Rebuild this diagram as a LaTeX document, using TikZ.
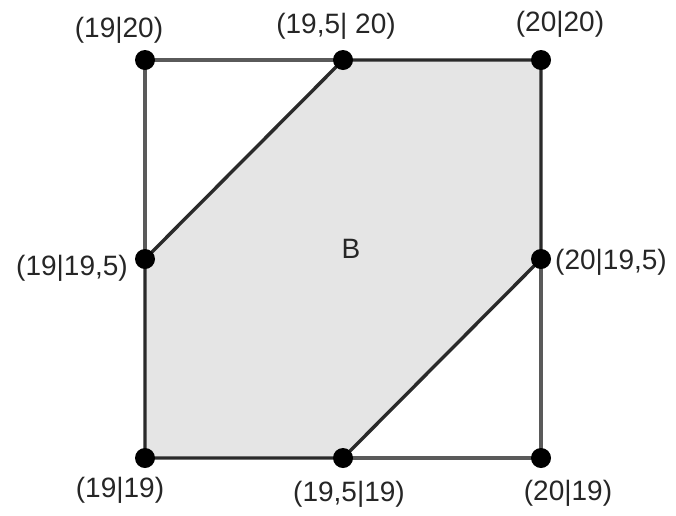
\documentclass[tikz,border=0pt]{standalone}
\usepackage{fontspec}
\setmainfont{Liberation Sans}
\definecolor{hexfill}{HTML}{E5E5E5}
\definecolor{sqline}{HTML}{5A5A5A}
\definecolor{hexline}{HTML}{2A2A2A}
\tikzset{
  sqedge/.style={draw=sqline, line width=3.2pt},
  hexedge/.style={draw=hexline, line width=3.4pt, line join=round},
  dot/.style={circle, fill=black, inner sep=0pt, minimum size=20pt},
  lbl/.style={font=\fontsize{28}{32}\selectfont, inner sep=0pt, text=black!85}
}
\begin{document}
\begin{tikzpicture}[x=1pt, y=-1pt]
\useasboundingbox (0,0) rectangle (676,515);
\coordinate (tl) at (145,60);
\coordinate (tm) at (343,60);
\coordinate (tr) at (541,60);
\coordinate (ml) at (145,259);
\coordinate (mr) at (541,259);
\coordinate (bl) at (145,458);
\coordinate (bm) at (343,458);
\coordinate (br) at (541,458);
% filled hexagon
\fill[hexfill] (tm) -- (tr) -- (mr) -- (bm) -- (bl) -- (ml) -- cycle;
% square edges
\draw[sqedge] (tl) -- (tm);
\draw[sqedge] (tl) -- (ml);
\draw[sqedge] (bm) -- (br);
\draw[sqedge] (br) -- (mr);
% hexagon edges
\draw[hexedge] (tm) -- (tr) -- (mr) -- (bm) -- (bl) -- (ml) -- cycle;
% dots
\node[dot] (ptl) at (tl) {};
\node[dot] (ptm) at (tm) {};
\node[dot] (ptr) at (tr) {};
\node[dot] (pml) at (ml) {};
\node[dot] (pmr) at (mr) {};
\node[dot] (pbl) at (bl) {};
\node[dot] (pbm) at (bm) {};
\node[dot] (pbr) at (br) {};
% labels
\node[lbl] (ltl) at (119,30) {(19|20)};
\node[lbl] (ltm) at (336,26) {(19,5| 20)};
\node[lbl] (ltr) at (560,24) {(20|20)};
\node[lbl] (lml) at (72,268) {(19|19,5)};
\node[lbl] (lmr) at (611,262) {(20|19,5)};
\node[lbl] (lbl) at (120,490) {(19|19)};
\node[lbl] (lbm) at (349,494) {(19,5|19)};
\node[lbl] (lbr) at (568,493) {(20|19)};
\node[lbl] (lB) at (351,249) {B};
\end{tikzpicture}
\end{document}
